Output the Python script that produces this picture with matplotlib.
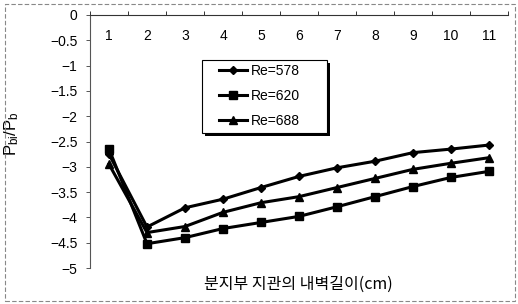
import matplotlib
matplotlib.use("Agg")
import matplotlib.pyplot as plt
from matplotlib.patches import Rectangle

x = [1, 2, 3, 4, 5, 6, 7, 8, 9, 10, 11]
re578 = [-2.75, -4.19, -3.81, -3.64, -3.41, -3.19, -3.02, -2.89, -2.72, -2.65, -2.57]
re620 = [-2.65, -4.52, -4.40, -4.22, -4.10, -3.98, -3.79, -3.59, -3.39, -3.21, -3.09]
re688 = [-2.95, -4.30, -4.18, -3.90, -3.71, -3.59, -3.41, -3.23, -3.05, -2.93, -2.82]
labels = ["Re=578", "Re=620", "Re=688"]
ytick_vals = [0, -0.5, -1, -1.5, -2, -2.5, -3, -3.5, -4, -4.5, -5]
ytick_labels = ["0", "−0.5", "−1", "−1.5", "−2", "−2.5", "−3", "−3.5", "−4", "−4.5", "−5"]
xlabel = "분지부 지관의 내벽길이(cm)"

plt.rcParams['font.family'] = ['Liberation Sans', 'DejaVu Sans']
plt.rcParams['mathtext.default'] = 'regular'

W, H = 518, 304
fig = plt.figure(figsize=(W/100, H/100), dpi=100)
ax = fig.add_axes([90/W, 1-268/H, 418/W, 253/H])

ax.plot(x, re578, color='black', lw=2.2, marker='D', ms=4.5, label=labels[0])
ax.plot(x, re620, color='black', lw=2.2, marker='s', ms=6, label=labels[1])
ax.plot(x, re688, color='black', lw=2.2, marker='^', ms=6, label=labels[2])

ax.set_xlim(0.5, 11.5)
ax.set_ylim(-5, 0)
for s in ['right', 'bottom']:
    ax.spines[s].set_visible(False)
ax.spines['left'].set_color('#555555')
ax.spines['left'].set_linewidth(0.8)
ax.spines['top'].set_color('#333333')
ax.spines['top'].set_linewidth(0.8)

ax.set_yticks(ytick_vals)
ax.set_yticklabels(ytick_labels, fontsize=10)
ax.tick_params(axis='y', direction='out', length=3, width=0.7, color='#555555', pad=6)

ax.set_xticks(x)
ax.set_xticklabels([str(v) for v in x], fontsize=10)
ax.set_xticks([v + 0.5 for v in [0] + x], minor=True)
ax.tick_params(axis='x', which='major', bottom=False, top=False, labelbottom=False,
               labeltop=True, pad=-24)
ax.tick_params(axis='x', which='minor', bottom=False, top=True, direction='out',
               length=3, width=0.7, color='#333333')

ax.set_ylabel(r'$P_{bi}/P_b$', fontsize=12)
ax.yaxis.set_label_coords(-0.165, 0.53)

fig.text(298/W, 1-284/H, xlabel, ha='center', va='center', fontsize=11.5,
         family=['Noto Sans CJK KR', 'DejaVu Sans'])

# legend frame with shadow
ax.add_patch(Rectangle((204.5/W, 1-136/H), 125/W, 73/H, transform=fig.transFigure,
                       fc='black', ec='none', zorder=4, clip_on=False))
ax.add_patch(Rectangle((202/W, 1-133/H), 125/W, 73/H, transform=fig.transFigure,
                       fc='white', ec='black', lw=0.8, zorder=5, clip_on=False))
leg = ax.legend(loc='upper left', bbox_to_anchor=(219/W, 1-64/H),
                bbox_transform=fig.transFigure,
                borderaxespad=0, borderpad=0, frameon=False, fontsize=10,
                handlelength=2.0, handletextpad=0.3, labelspacing=0.78)
leg.set_zorder(6)

fig.patches.append(Rectangle((5/W, 3/H), 510/W, 297/H, transform=fig.transFigure,
                             fill=False, ec='#888888', lw=0.8, ls=(0, (4, 2))))

fig.savefig('out.png', dpi=100)
